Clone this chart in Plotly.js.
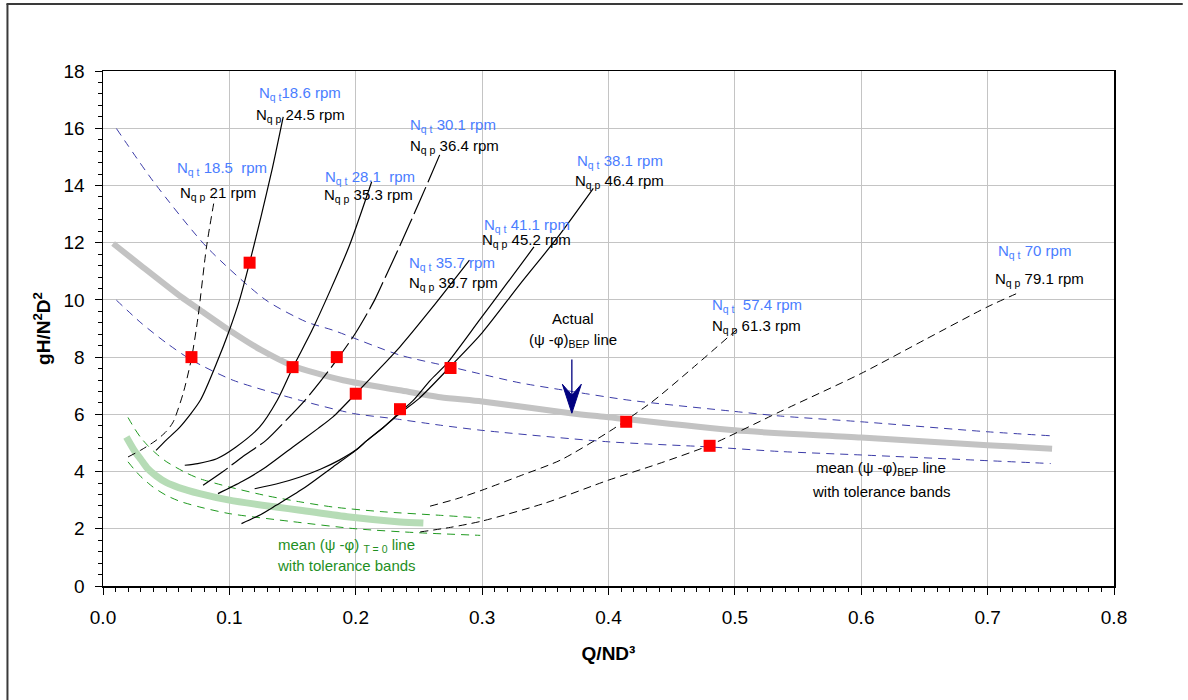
<!DOCTYPE html>
<html>
<head>
<meta charset="utf-8">
<script src="https://cdn.plot.ly/plotly-3.0.1.min.js"></script>
<style>
html,body{margin:0;padding:0;background:#fff;}
#chart{width:1188px;height:700px;}
</style>
</head>
<body>
<div id="chart"></div>
<script>
// ---------- DATA ----------
// Actual (psi-phi)BEP line (thick grey)
const bepX = [0.008, 0.03, 0.062, 0.077, 0.1, 0.125, 0.15, 0.19, 0.235, 0.267, 0.3, 0.37, 0.4, 0.5, 0.6, 0.7, 0.751];
const bepY = [11.97, 11.2, 10.1, 9.64, 8.94, 8.25, 7.7, 7.19, 6.84, 6.6, 6.45, 6.04, 5.9, 5.44, 5.19, 4.92, 4.80];
// Tolerance bands (blue dashed)
const bepUpX = [0.0106, 0.04, 0.082, 0.129, 0.161, 0.182, 0.235, 0.275, 0.298, 0.33, 0.371, 0.417, 0.5, 0.536, 0.6, 0.7, 0.75];
const bepUpY = [15.99, 14.13, 11.85, 9.99, 9.23, 8.94, 8.07, 7.66, 7.42, 7.1, 6.8, 6.49, 6.1, 5.94, 5.74, 5.39, 5.25];
const bepLoX = [0.0106, 0.03, 0.05, 0.07, 0.103, 0.156, 0.198, 0.23, 0.267, 0.3, 0.4, 0.48, 0.536, 0.6, 0.7, 0.75];
const bepLoY = [9.99, 9.2, 8.5, 7.9, 7.19, 6.49, 6.03, 5.85, 5.62, 5.44, 5.04, 4.86, 4.70, 4.58, 4.38, 4.28];
// mean (psi-phi)T=0 line (thick light green) and its bands
const t0X = [0.0185, 0.025, 0.03, 0.035, 0.042, 0.05, 0.06, 0.0766, 0.1, 0.137, 0.156, 0.195, 0.235, 0.2535];
const t0Y = [5.21, 4.72, 4.42, 4.12, 3.85, 3.62, 3.44, 3.23, 3.0, 2.76, 2.65, 2.41, 2.24, 2.2];
const t0UpX = [0.0198, 0.025, 0.03, 0.036, 0.042, 0.05, 0.066, 0.0766, 0.1, 0.13, 0.156, 0.182, 0.22, 0.267, 0.2985];
const t0UpY = [5.89, 5.5, 5.18, 4.88, 4.63, 4.35, 3.95, 3.75, 3.46, 3.15, 2.94, 2.76, 2.6, 2.47, 2.38];
const t0LoX = [0.0198, 0.025, 0.03, 0.0396, 0.05, 0.0608, 0.0766, 0.1, 0.15, 0.2, 0.25, 0.2985];
const t0LoY = [4.34, 4.06, 3.82, 3.46, 3.17, 2.96, 2.76, 2.53, 2.25, 2.0, 1.86, 1.77];
// Pump head curves
const c1X = [0.0198, 0.03, 0.042, 0.05, 0.0555, 0.0634, 0.07, 0.0752, 0.0819, 0.0885];
const c1Y = [4.51, 4.75, 5.09, 5.4, 5.73, 6.73, 7.95, 9.4, 11.85, 13.6];
const c2X = [0.042, 0.05, 0.061, 0.077, 0.09, 0.1, 0.108, 0.116, 0.125, 0.134, 0.1426];
const c2Y = [4.74, 5.1, 5.56, 6.49, 7.8, 8.94, 9.99, 11.3, 12.9, 14.6, 16.4];
const c3X = [0.0647, 0.075, 0.09, 0.105, 0.124, 0.138, 0.1505, 0.165, 0.18, 0.195, 0.2126];
const c3Y = [4.22, 4.28, 4.45, 4.85, 5.56, 6.5, 7.66, 8.9, 10.35, 11.9, 14.13];
const c4X = [0.0792, 0.095, 0.11, 0.129, 0.145, 0.16, 0.172, 0.185, 0.2, 0.215, 0.2245, 0.235, 0.251, 0.268];
const c4Y = [3.52, 4.0, 4.5, 5.09, 5.8, 6.5, 7.15, 7.9, 8.85, 10.0, 10.9, 11.9, 13.49, 15.23];
const c5X = [0.091, 0.11, 0.129, 0.15, 0.17, 0.182, 0.2, 0.22, 0.235, 0.26, 0.29];
const c5Y = [3.23, 3.65, 4.16, 4.85, 5.5, 5.91, 6.72, 7.65, 8.36, 9.7, 11.39];
const c6X = [0.12, 0.14, 0.156, 0.172, 0.187, 0.2, 0.209, 0.222, 0.235, 0.2455, 0.259, 0.272, 0.298, 0.32, 0.341];
const c6Y = [3.40, 3.6, 3.81, 4.08, 4.4, 4.75, 5.09, 5.55, 6.08, 6.49, 7.19, 7.77, 9.3, 10.6, 11.85];
const c7X = [0.1096, 0.125, 0.137, 0.16, 0.182, 0.2, 0.209, 0.222, 0.235, 0.25, 0.277, 0.3, 0.33, 0.36, 0.388];
const c7Y = [2.18, 2.5, 2.82, 3.45, 4.16, 4.74, 5.09, 5.55, 6.04, 6.55, 7.77, 8.85, 10.55, 12.2, 13.9];
const c8X = [0.2588, 0.28, 0.3, 0.33, 0.362, 0.402, 0.436, 0.47, 0.504];
const c8Y = [2.79, 3.05, 3.35, 3.85, 4.40, 5.44, 6.49, 7.75, 9.06];
const c9X = [0.251, 0.275, 0.3, 0.35, 0.4, 0.44, 0.48, 0.536, 0.6, 0.65, 0.7, 0.726];
const c9Y = [1.89, 2.05, 2.27, 2.9, 3.7, 4.28, 4.92, 6.1, 7.43, 8.6, 9.76, 10.28];
// Best efficiency points (red squares)
const ptX = [0.07, 0.116, 0.15, 0.185, 0.2, 0.235, 0.275, 0.414, 0.48];
const ptY = [8.0, 11.3, 7.65, 8.0, 6.72, 6.18, 7.62, 5.74, 4.9];
// Arrow "Actual (psi-phi)BEP line"
const arrowX = [0.371];
const arrowYTop = [7.92];
const arrowYTip = [6.04];
// Label texts
const nqtText = ["N<sub>q t</sub>18.6 rpm", "N<sub>q t</sub> 18.5  rpm", "N<sub>q t</sub> 28.1  rpm", "N<sub>q t</sub> 30.1 rpm", "N<sub>q t</sub> 38.1 rpm", "N<sub>q t</sub> 41.1 rpm", "N<sub>q t</sub> 35.7 rpm", "N<sub>q t</sub>  57.4 rpm", "N<sub>q t</sub> 70 rpm"];
const nqpText = ["N<sub>q p</sub> 24.5 rpm", "N<sub>q p</sub> 21 rpm", "N<sub>q p</sub> 35.3 rpm", "N<sub>q p</sub> 36.4 rpm", "N<sub>q p</sub> 46.4 rpm", "N<sub>q p</sub> 45.2 rpm", "N<sub>q p</sub> 39.7 rpm", "N<sub>q p</sub> 61.3 rpm", "N<sub>q p</sub> 79.1 rpm"];
const xTickLabels = ["0.0", "0.1", "0.2", "0.3", "0.4", "0.5", "0.6", "0.7", "0.8"];
const xTickVals = [0, 0.1, 0.2, 0.3, 0.4, 0.5, 0.6, 0.7, 0.8];

// ---------- LAYOUT HELPERS (positions) ----------
const nqtPos = [[0.1215, 17.22], [0.0568, 14.6], [0.174, 14.29], [0.2413, 16.11], [0.3736, 14.85], [0.2997, 12.61], [0.2403, 11.27], [0.4805, 9.81], [0.7063, 11.68]];
const nqpPos = [[0.1194, 16.46], [0.0592, 13.73], [0.1732, 13.66], [0.2413, 15.35], [0.372, 14.13], [0.2984, 12.09], [0.2403, 10.57], [0.4805, 9.06], [0.7042, 10.72]];

const FONT = "Liberation Sans, Arial, sans-serif";
const BLUE_TXT = "#4a7dff";
const GREEN_TXT = "#1f8f1f";
const LBL = 15;

function line(x, y, color, width, dash, shape) {
  return {x: x, y: y, type: "scatter", mode: "lines", hoverinfo: "skip",
    line: {color: color, width: width, dash: dash || "solid", shape: shape || "spline", smoothing: 0.7}};
}

const traces = [
  line(t0X, t0Y, "#b6dcb6", 7),
  line(bepX, bepY, "#c3c3c3", 6),
  line(bepUpX, bepUpY, "#3c3ca8", 1, "8px,6px"),
  line(bepLoX, bepLoY, "#3c3ca8", 1, "8px,6px"),
  line(t0UpX, t0UpY, "#1f9a1f", 1, "8px,6px"),
  line(t0LoX, t0LoY, "#1f9a1f", 1, "8px,6px"),
  line(c1X, c1Y, "#000", 1, "8px,5px"),
  line(c2X, c2Y, "#000", 1.2),
  line(c3X, c3Y, "#000", 1.2),
  line(c4X, c4Y, "#000", 1.2, "30px,5px"),
  line(c5X, c5Y, "#000", 1.2),
  line(c6X, c6Y, "#000", 1.2),
  line(c7X, c7Y, "#000", 1.2),
  line(c8X, c8Y, "#000", 1, "8px,5px"),
  line(c9X, c9Y, "#000", 1, "8px,5px"),
  {x: ptX, y: ptY, type: "scatter", mode: "markers", hoverinfo: "skip",
   marker: {symbol: "square", size: 12, color: "#ff0000", line: {width: 0}}}
];

const annotations = [];
for (let i = 0; i < nqtText.length; i++) {
  annotations.push({x: nqtPos[i][0], y: nqtPos[i][1], xref: "x", yref: "y", text: nqtText[i],
    showarrow: false, xanchor: "left", yanchor: "middle", font: {family: FONT, size: LBL, color: BLUE_TXT}});
  annotations.push({x: nqpPos[i][0], y: nqpPos[i][1], xref: "x", yref: "y", text: nqpText[i],
    showarrow: false, xanchor: "left", yanchor: "middle", font: {family: FONT, size: LBL, color: "#000"}});
}
annotations.push({x: 0.372, y: 9.35, xref: "x", yref: "y", text: "Actual", showarrow: false,
  xanchor: "center", yanchor: "middle", font: {family: FONT, size: LBL, color: "#000"}});
annotations.push({x: 0.372, y: 8.59, xref: "x", yref: "y", text: "(ψ -φ)<sub>BEP</sub> line", showarrow: false,
  xanchor: "center", yanchor: "middle", font: {family: FONT, size: LBL, color: "#000"}});
annotations.push({x: 0.616, y: 4.12, xref: "x", yref: "y", text: "mean (ψ -φ)<sub>BEP</sub> line", showarrow: false,
  xanchor: "center", yanchor: "middle", font: {family: FONT, size: LBL, color: "#000"}});
annotations.push({x: 0.616, y: 3.29, xref: "x", yref: "y", text: "with tolerance bands", showarrow: false,
  xanchor: "center", yanchor: "middle", font: {family: FONT, size: LBL, color: "#000"}});
annotations.push({x: 0.1926, y: 1.42, xref: "x", yref: "y", text: "mean (ψ -φ) <sub>T = 0</sub> line", showarrow: false,
  xanchor: "center", yanchor: "middle", font: {family: FONT, size: LBL, color: GREEN_TXT}});
annotations.push({x: 0.1926, y: 0.70, xref: "x", yref: "y", text: "with tolerance bands", showarrow: false,
  xanchor: "center", yanchor: "middle", font: {family: FONT, size: LBL, color: GREEN_TXT}});

const shapes = [
  // arrow stem
  {type: "line", xref: "x", yref: "y", x0: arrowX[0], x1: arrowX[0], y0: arrowYTop[0], y1: arrowYTip[0] + 0.5,
   line: {color: "#000080", width: 1.3}},
  // arrow head (pixel-sized, anchored at tip)
  {type: "path", xref: "x", yref: "y", xsizemode: "pixel", ysizemode: "pixel",
   xanchor: arrowX[0], yanchor: arrowYTip[0], path: "M0,0 L-9.5,29 L0,18 L9.5,29 Z",
   fillcolor: "#000080", line: {color: "#000080", width: 1}},
  // outer frame (left & top)
  {type: "line", xref: "paper", yref: "paper", x0: -0.0945, x1: -0.0945, y0: -0.3, y1: 1.1301,
   line: {color: "#3a3a3a", width: 2}},
  {type: "line", xref: "paper", yref: "paper", x0: -0.0955, x1: 1.068, y0: 1.1301, y1: 1.1301,
   line: {color: "#3a3a3a", width: 2}}
];

const layout = {
  width: 1188, height: 700,
  margin: {l: 103, r: 74, t: 71, b: 114, pad: 0},
  paper_bgcolor: "#fff", plot_bgcolor: "#fff",
  showlegend: false, hovermode: false,
  font: {family: FONT, color: "#000"},
  xaxis: {
    range: [0, 0.8], tickvals: xTickVals, ticktext: xTickLabels,
    showgrid: true, gridcolor: "#c4c4c4", gridwidth: 1,
    showline: true, linecolor: "#000", linewidth: 1.5, mirror: true,
    ticks: "outside", ticklen: 7, tickwidth: 1, tickcolor: "#000",
    minor: {dtick: 0.01, ticks: "outside", ticklen: 4, tickcolor: "#000", tickwidth: 1, showgrid: false},
    tickfont: {family: FONT, size: 19, color: "#000"},
    ticklabelstandoff: 7,
    zeroline: false,
    title: {text: "<b>Q/ND³</b>", font: {family: FONT, size: 19, color: "#000"}, standoff: 19}
  },
  yaxis: {
    range: [0, 18], dtick: 2, tick0: 0,
    showgrid: true, gridcolor: "#c4c4c4", gridwidth: 1,
    showline: true, linecolor: "#000", linewidth: 1.5, mirror: true,
    ticks: "outside", ticklen: 7, tickwidth: 1, tickcolor: "#000",
    minor: {dtick: 0.4, ticks: "outside", ticklen: 4, tickcolor: "#000", tickwidth: 1, showgrid: false},
    tickfont: {family: FONT, size: 19, color: "#000"},
    ticklabelstandoff: 6,
    zeroline: false,
    title: {text: "<b>gH/N<sup>2</sup>D<sup>2</sup></b>", font: {family: FONT, size: 19, color: "#000"}, standoff: 8}
  },
  annotations: annotations,
  shapes: shapes
};

Plotly.newPlot("chart", traces, layout, {displayModeBar: false, staticPlot: true});
</script>
</body>
</html>
